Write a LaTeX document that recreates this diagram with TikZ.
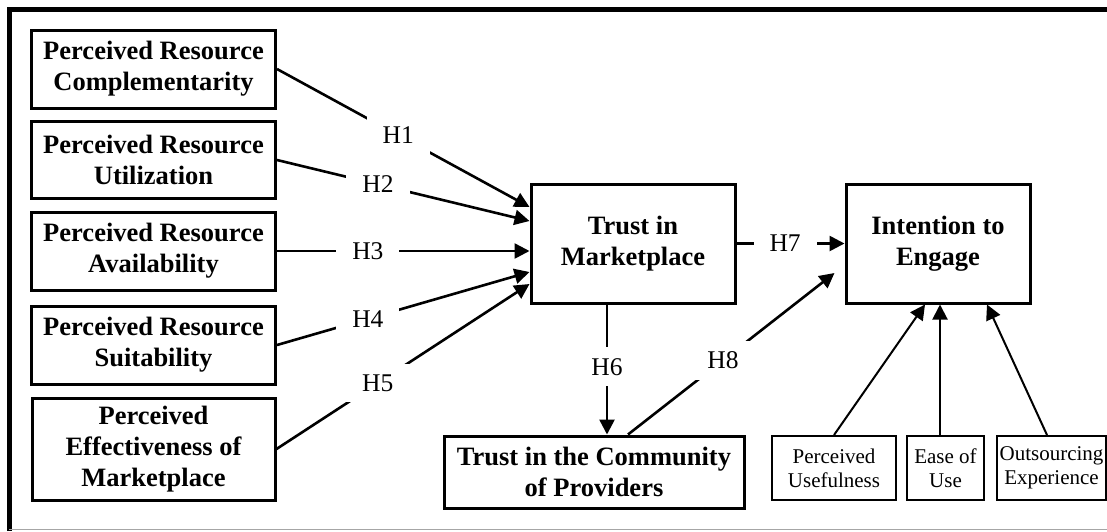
\documentclass[tikz,border=0pt]{standalone}
\usepackage{fontspec}
\setmainfont{Liberation Serif}
\usetikzlibrary{positioning,arrows.meta}

\tikzset{
  bigbox/.style={draw, line width=3pt, align=center, inner sep=0pt,
    font=\bfseries\fontsize{26.5}{31}\selectfont},
  smallbox/.style={draw, line width=2pt, align=center, inner sep=0pt,
    minimum height=64pt, font=\fontsize{21}{24}\selectfont},
  hyp/.style={fill=white, inner xsep=16pt, inner ysep=11pt,
    font=\fontsize{25.5}{30}\selectfont},
  link/.style={line width=2.6pt, -{Triangle[length=15pt,width=15pt]}},
  thinlink/.style={line width=2pt, -{Triangle[length=15pt,width=15pt]}},
}

\begin{document}
\begin{tikzpicture}[x=1pt,y=-1pt]
  \useasboundingbox (0,0) rectangle (1107,531);
  % frame
  \draw[line width=5pt] (9,531) -- (9,9.5) -- (1107,9.5);
  \draw[gray!70, line width=1.5pt] (9,529.5) -- (1107,529.5);

  % antecedents
  \node[bigbox, minimum width=244pt, minimum height=78pt] (prc) at (153.5,69) {Perceived Resource\\Complementarity};
  \node[bigbox, on grid, below=91pt of prc, minimum width=244pt, minimum height=77pt] (pru) {Perceived Resource\\Utilization};
  \node[bigbox, on grid, below=91pt of pru, minimum width=244pt, minimum height=78pt] (pra) {Perceived Resource\\Availability};
  \node[bigbox, on grid, below=94pt of pra, minimum width=244pt, minimum height=78pt] (prs) {Perceived Resource\\Suitability};
  \node[bigbox, on grid, below=104pt of prs, minimum width=243pt, minimum height=102pt] (pem) {Perceived\\Effectiveness of\\Marketplace};

  % trust and intention
  \node[bigbox, minimum width=204pt, minimum height=119pt] (tm) at (633,243.5) {Trust in\\Marketplace};
  \node[bigbox, on grid, right=305pt of tm, minimum width=184pt, minimum height=119pt] (ie) {Intention to\\Engage};
  \node[bigbox, minimum width=300pt, minimum height=72pt] (tcp) at (594,472) {Trust in the Community\\of Providers};

  % controls
  \node[smallbox, minimum width=124pt] (pu) at (834,468) {Perceived\\Usefulness};
  \node[smallbox, on grid, right=111.5pt of pu, minimum width=77pt] (eou) {Ease of\\Use};
  \node[smallbox, on grid, right=106pt of eou, minimum width=109pt] (oe) {Outsourcing\\Experience};

  \draw[link] (prc.east) -- node[hyp, pos=.48] {H1} ([yshift=36.5pt]tm.west);
  \draw[link] (pru.east) -- node[hyp, pos=.40] {H2} ([yshift=22.5pt]tm.west);
  \draw[link] (pra.east) -- node[hyp, pos=.36] {H3} (pra.east -| tm.west);
  \draw[link] (prs.east) -- node[hyp, pos=.36] {H4} ([yshift=-28.5pt]tm.west);
  \draw[link] (pem.east) -- node[hyp, pos=.40] {H5} ([yshift=-40.5pt]tm.west);
  \draw[link] ([xshift=-26pt]tm.south) -- node[hyp, pos=.48] {H6} ([xshift=-26pt]tm.south |- tcp.north);
  \draw[link] (tm.east) -- node[hyp, pos=.45] {H7} (ie.west);
  \draw[link] ([xshift=34pt]tcp.north) -- node[hyp, pos=.46] {H8} ([xshift=-10pt,yshift=-29.5pt]ie.west);

  \draw[thinlink] (pu.north) -- ([xshift=-13pt]ie.south);
  \draw[thinlink] ([xshift=-5.5pt]eou.north) -- ([xshift=2pt]ie.south);
  \draw[thinlink] ([xshift=-4.5pt]oe.north) -- ([xshift=49pt]ie.south);
\end{tikzpicture}
\end{document}
